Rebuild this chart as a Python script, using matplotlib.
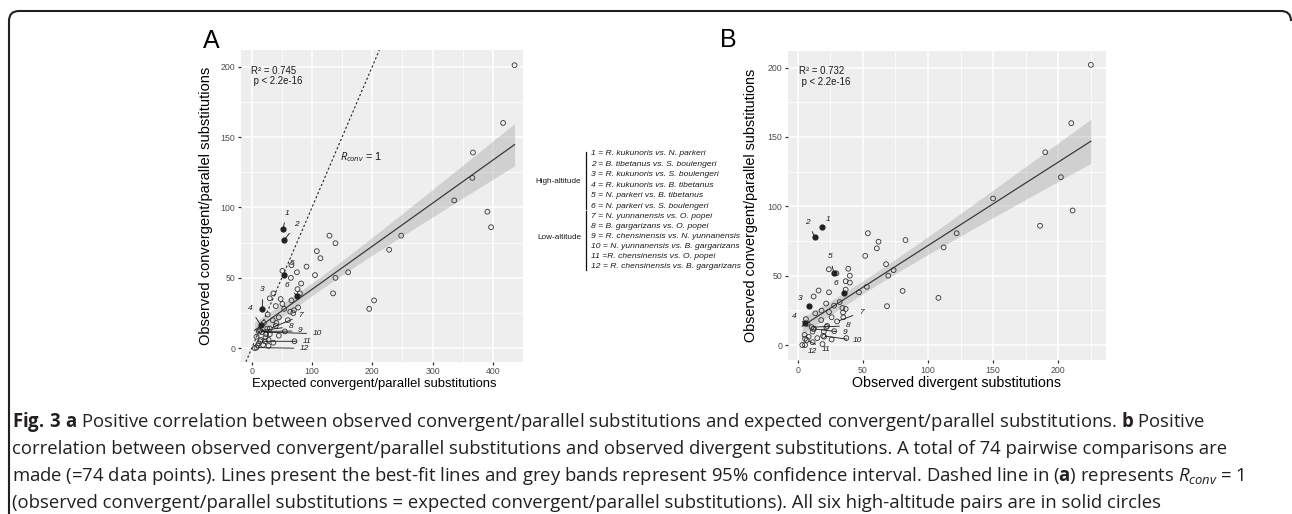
import numpy as np
import matplotlib.pyplot as plt
from matplotlib.path import Path
from matplotlib.patches import PathPatch

plt.rcParams['font.family'] = ['Liberation Sans', 'DejaVu Sans']
plt.rcParams['mathtext.fontset'] = 'custom'
plt.rcParams['mathtext.rm'] = 'Open Sans'
plt.rcParams['mathtext.it'] = 'Open Sans:italic'
plt.rcParams['mathtext.bf'] = 'Open Sans:bold'

# ---- panel A: expected vs observed convergent/parallel substitutions
a_high_x = [52, 54, 17.7, 15, 54, 76]
a_high_y = [85, 77, 28, 16.5, 52, 37]
a_low_x = [30, 14, 12, 17, 14, 8]
a_low_y = [14, 12.5, 12, 11.5, 5, 0.5]
a_other_x = [436, 417, 367, 366, 336, 391, 397, 248, 228, 203,
             195, 160, 139, 129, 108, 114, 105, 139, 135, 91,
             75, 82, 65, 51, 66, 80, 76, 66, 77, 70,
             69, 64, 54, 51, 40, 36, 30, 26.5, 41, 60,
             40, 26, 55, 24, 30, 8, 23, 15, 28, 36,
             71, 12, 19, 28, 5, 45, 20, 35, 48, 22,
             10, 45]
a_other_y = [201, 160, 139, 121, 105, 97, 86, 80, 70, 34,
             28, 54, 74.6, 80, 69, 64, 52, 50, 39, 58,
             54, 46, 50, 55, 59, 39, 42, 34, 29, 27,
             25, 26, 28, 31.5, 30, 39, 35.5, 24, 18, 20,
             16, 14, 12, 10, 10, 8.3, 7.8, 6, 6, 4,
             5, 3.5, 2.4, 1.7, 0.2, 22, 18, 20, 35, 5,
             2, 9]

# ---- panel B: observed divergent vs observed convergent/parallel substitutions
b_high_x = [19, 13.2, 8.9, 5.6, 27.7, 35.5]
b_high_y = [85.4, 77.7, 28.4, 15.8, 52.2, 37.6]
b_low_x = [30.2, 10.7, 11.9, 19.5, 6.9, 3.5]
b_low_y = [17, 12.9, 11.7, 6.6, 3.6, 0]
b_other_x = [225, 210, 190, 202, 211, 186, 150, 122, 112, 108,
             82.7, 80.5, 73.6, 69.5, 68.5, 67.8, 62, 60.7, 53.8, 51.8,
             53, 47, 40, 38.8, 36.8, 36.8, 29.7, 23.9, 24, 16,
             12.2, 21.8, 27.9, 32.2, 34.3, 36.8, 34.8, 35, 24, 18.3,
             13.5, 18, 6.3, 7.6, 12.4, 11.4, 22.6, 20, 20.3, 26,
             37.3, 19, 11.4, 8.4, 5.3, 5.6, 5.6, 22, 28, 15,
             40, 26]
b_other_y = [202, 160, 139, 121, 97, 86, 105.6, 80.6, 70.4, 34,
             75.7, 39, 54, 50, 28, 58.3, 74.5, 69.7, 80.6, 64.3,
             42, 38, 50, 55, 46, 40, 51.7, 54.6, 38, 39.3,
             35, 29.9, 28.4, 31, 26.7, 26, 23.5, 20, 23.8, 24.8,
             22.8, 18, 18.7, 15.3, 11.7, 9.7, 13.8, 9.7, 6, 4,
             5, 0.7, 2, 6, 7.3, 4.6, 0, 13, 10, 5,
             45, 20]

point_labels = [str(i) for i in range(1, 13)]
# where each number label sits (data units of its panel)
a_label_pos = [(58, 96), (74.6, 88), (18, 41.5), (-3, 28.4), (67, 60), (58, 44.3),
               (81, 23), (65, 15.4), (81, 12.3), (109, 10.4), (92, 5), (88, 0)]
b_label_pos = [(23.4, 90.5), (7.6, 88.6), (1.8, 33.3), (-2.5, 20.6), (24.6, 63.8), (29.2, 44.4),
               (48.7, 23.5), (38.6, 13.8), (36, 9), (46, 3.2), (21.6, -3), (11, -5)]

legend_items = ['1 = R. kukunoris vs. N. parkeri',
                '2 = B. tibetanus vs. S. boulengeri',
                '3 = R. kukunoris vs. S. boulengeri',
                '4 = R. kukunoris vs. B. tibetanus',
                '5 = N. parkeri vs. B. tibetanus',
                '6 = N. parkeri vs. S. boulengeri',
                '7 = N. yunnanensis vs. O. popei',
                '8 = B. gargarizans vs. O. popei',
                '9 = R. chensinensis vs. N. yunnanensis',
                '10 = N. yunnanensis vs. B. gargarizans',
                '11 =R. chensinensis vs. O. popei',
                '12 = R. chensinensis vs. B. gargarizans']

caption = [r'$\mathbf{Fig.\,3\ a}$ Positive correlation between observed convergent/parallel substitutions and expected convergent/parallel substitutions. $\mathbf{b}$ Positive',
           'correlation between observed convergent/parallel substitutions and observed divergent substitutions. A total of 74 pairwise comparisons are',
           r'made (=74 data points). Lines present the best-fit lines and grey bands represent 95% confidence interval. Dashed line in ($\mathbf{a}$) represents $\mathit{R}_{\mathit{conv}}$ = 1',
           '(observed convergent/parallel substitutions = expected convergent/parallel substitutions). All six high-altitude pairs are in solid circles']

W, H = 1292, 514


def fit_band(x, y):
    x = np.asarray(x, float)
    y = np.asarray(y, float)
    n = len(x)
    b, a = np.polyfit(x, y, 1)
    xs = np.linspace(x.min(), x.max(), 100)
    yh = a + b * xs
    s = np.sqrt(((y - (a + b * x)) ** 2).sum() / (n - 2))
    sxx = ((x - x.mean()) ** 2).sum()
    se = s * np.sqrt(1 / n + (xs - x.mean()) ** 2 / sxx)
    t = 1.993  # t(0.975, df=72)
    return xs, yh, yh - t * se, yh + t * se


def panel(ax, hx, hy, lx, ly, ox, oy, label_pos, xlim, ylim, xmaj, xmin, stat):
    ax.set_facecolor('#eeeeee')
    for s in ax.spines.values():
        s.set_visible(False)
    ax.set_xlim(*xlim)
    ax.set_ylim(*ylim)
    ax.set_xticks(xmaj)
    ax.set_xticks(xmin, minor=True)
    ax.set_yticks([0, 50, 100, 150, 200])
    ax.set_yticks([25, 75, 125, 175], minor=True)
    ax.grid(which='major', color='white', lw=1.1)
    ax.grid(which='minor', color='white', lw=0.55)
    ax.set_axisbelow(True)
    ax.tick_params(which='major', length=2.5, width=0.9, color='#333333',
                   labelsize=6.3, labelcolor='#4d4d4d', pad=1.5)
    ax.tick_params(which='minor', length=0)

    allx = list(hx) + list(lx) + list(ox)
    ally = list(hy) + list(ly) + list(oy)
    xs, yh, lo, hi = fit_band(allx, ally)
    ax.fill_between(xs, lo, hi, color='#999999', alpha=0.35, lw=0, zorder=2)
    ax.plot(xs, yh, color='#3a3a3a', lw=0.9, zorder=3)

    ax.scatter(list(lx) + list(ox), list(ly) + list(oy), s=12, facecolors='none',
               edgecolors='#333333', linewidths=0.6, zorder=4)
    ax.scatter(hx, hy, s=12, color='#222222', zorder=5)

    px = list(hx) + list(lx)
    py = list(hy) + list(ly)
    for lab, (tx, ty), x, y in zip(point_labels, label_pos, px, py):
        ax.annotate(lab, xy=(x, y), xytext=(tx, ty), fontsize=6, style='italic',
                    color='#1a1a1a', ha='center', va='center', zorder=6,
                    arrowprops=dict(arrowstyle='-', color='#111111', lw=0.6,
                                    shrinkA=2.5, shrinkB=1.5))

    ax.text(0.035, 0.95, stat, transform=ax.transAxes, fontsize=6.9,
            va='top', ha='left', color='#1a1a1a', linespacing=1.1)


fig = plt.figure(figsize=(W / 100, H / 100), dpi=100)

axA = fig.add_axes([241 / W, 1 - 361.7 / H, 282 / W, 311.7 / H])
panel(axA, a_high_x, a_high_y, a_low_x, a_low_y, a_other_x, a_other_y, a_label_pos,
      (-17.7, 450), (-9.5, 211.8), [0, 100, 200, 300, 400], [50, 150, 250, 350, 450],
      'R\u00b2 = 0.745\n p < 2.2e-16')
axA.axline((0, 0), slope=1, color='#222222', lw=0.8, ls=(0, (2, 2)), zorder=3)
axA.text(147, 136, r'$\mathit{R}_{conv}$ = 1', fontsize=7.8, color='#1a1a1a', va='center')
axA.set_xlabel('Expected convergent/parallel substitutions', fontsize=9.4)
axA.xaxis.set_label_coords(0.473, -0.052)
axA.set_ylabel('Observed convergent/parallel substitutions', fontsize=10.5)
axA.yaxis.set_label_coords(-0.099, 0.5)

axB = fig.add_axes([787.7 / W, 1 - 360 / H, 318 / W, 309 / H])
panel(axB, b_high_x, b_high_y, b_low_x, b_low_y, b_other_x, b_other_y, b_label_pos,
      (-7.7, 236.4), (-10.8, 212), [0, 50, 100, 150, 200], [25, 75, 125, 175, 225],
      'R\u00b2 = 0.732\n p < 2.2e-16')
axB.set_xlabel('Observed divergent substitutions', fontsize=10.3)
axB.xaxis.set_label_coords(0.53, -0.052)
axB.set_ylabel('Observed convergent/parallel substitutions', fontsize=10.4)
axB.yaxis.set_label_coords(-0.093, 0.5)

fig.text(211.7 / W, 1 - 41 / H, 'A', fontsize=18, ha='center', va='center')
fig.text(728 / W, 1 - 40 / H, 'B', fontsize=18, ha='center', va='center')

# species key between the panels
item_y = [153.3, 164, 175, 185.3, 195.3, 206, 216, 226, 237, 246.7, 256.7, 266.7]
for txt, yy in zip(legend_items, item_y):
    fig.text(590.7 / W, 1 - yy / H, txt, fontsize=6.1, style='italic',
             color='#1a1a1a', va='center', ha='left')
fig.text(581 / W, 1 - 181.7 / H, 'High-altitude', fontsize=5.9, ha='right', va='center', color='#1a1a1a')
fig.text(581 / W, 1 - 237.3 / H, 'Low-altitude', fontsize=5.9, ha='right', va='center', color='#1a1a1a')
for y0, y1 in [(151.7, 209.3), (211, 270)]:
    fig.add_artist(plt.Line2D([586 / W, 586 / W], [1 - y0 / H, 1 - y1 / H], color='#111111', lw=0.9))

# caption
cap_y = [422, 449, 476, 503]
for txt, yy in zip(caption, cap_y):
    fig.text(12 / W, 1 - yy / H, txt, fontsize=13.35, family='Open Sans',
             color='#231f20', va='center', ha='left')

# rounded frame (left and top edges)
r = 10
verts = [(9, H + 5), (9, 11 + r), (9, 11), (9 + r, 11), (W - 1 - r, 11), (W - 1, 11), (W - 1, 11 + r)]
codes = [Path.MOVETO, Path.LINETO, Path.CURVE3, Path.CURVE3, Path.LINETO, Path.CURVE3, Path.CURVE3]
verts = [(x / W, 1 - y / H) for x, y in verts]
fig.add_artist(PathPatch(Path(verts, codes), fill=False, lw=1.5, edgecolor='#231f20',
                         transform=fig.transFigure))

fig.savefig('out.png', dpi=100)
